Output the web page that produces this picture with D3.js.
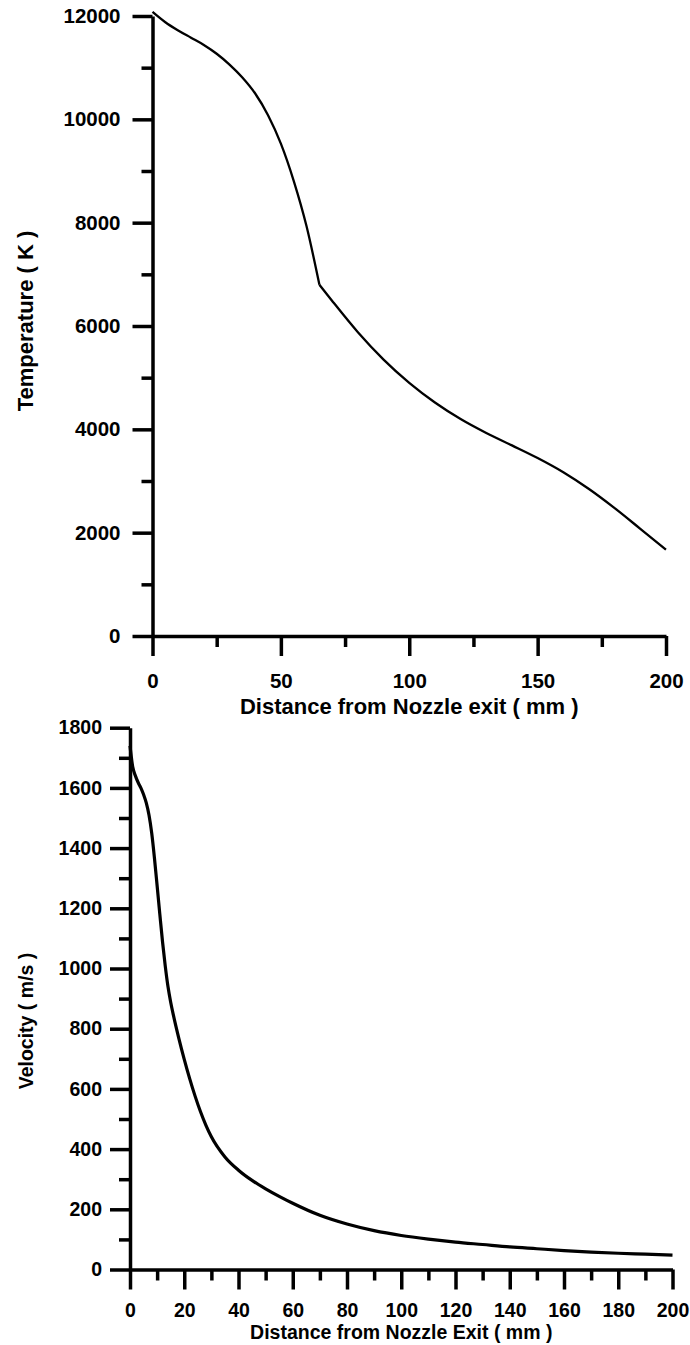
<!DOCTYPE html>
<html>
<head>
<meta charset="utf-8">
<script src="https://cdnjs.cloudflare.com/ajax/libs/d3/7.8.5/d3.min.js"></script>
<style>
body{margin:0;background:#fff}
svg{display:block}
text{font-family:"Liberation Sans",Arial,Helvetica,sans-serif;font-weight:bold;fill:#000}
</style>
</head>
<body>
<script>
// top plot: temperature along the jet axis
var tempDist = [0,5,10,15,20,25,30,35,40,45,50,55,60,65,70,80,90,100,110,120,130,140,150,160,170,180,190,200];
var tempVal  = [12080,11880,11720,11580,11440,11270,11060,10810,10500,10080,9530,8810,7930,6800,6485,5880,5350,4900,4520,4200,3930,3690,3445,3170,2845,2475,2075,1670];
var tempBreak = 65; // slope changes abruptly here
var tempXTicks = [0,50,100,150,200];
var tempXMinor = [25,75,125,175];
var tempYTicks = [0,2000,4000,6000,8000,10000,12000];
var tempYMinor = [1000,3000,5000,7000,9000,11000];

// bottom plot: velocity along the jet axis
var velDist = [0,1,2,3,4,5,6,7,8,9,10,11,12,13,14,15,16,18,20,22,24,26,28,30,35,40,45,50,55,60,70,80,90,100,110,120,130,140,150,160,170,180,190,200];
var velVal  = [1740,1670,1640,1618,1600,1578,1550,1510,1450,1368,1275,1180,1088,1008,940,888,845,768,698,634,576,524,479,441,374,330,296,268,243,220,180,151,129,113,101,91,83,75,69,63,58,54,51,48];
var velXTicks = [0,20,40,60,80,100,120,140,160,180,200];
var velXMinor = [10,30,50,70,90,110,130,150,170,190];
var velYTicks = [0,200,400,600,800,1000,1200,1400,1600,1800];
var velYMinor = [100,300,500,700,900,1100,1300,1500,1700];

var W = 690, H = 1345;
var svg = d3.select('body').append('svg')
  .attr('width', W)
  .attr('height', H);

function panel(p) {
  var x = d3.scaleLinear().domain([0,200]).range([p.left,p.right]);
  var y = d3.scaleLinear().domain([0,p.ymax]).range([p.bottom,p.top]);
  var g = svg.append('g');

  // minor ticks first, under the majors
  g.append('g')
    .attr('transform','translate(0,'+p.bottom+')')
    .call(d3.axisBottom(x).tickValues(p.xMinor).tickSize(11).tickFormat(''))
    .call(function(s){ s.select('.domain').remove(); });
  g.append('g')
    .attr('transform','translate('+p.left+',0)')
    .call(d3.axisLeft(y).tickValues(p.yMinor).tickSize(11).tickFormat(''))
    .call(function(s){ s.select('.domain').remove(); });

  g.append('g')
    .attr('transform','translate(0,'+p.bottom+')')
    .call(d3.axisBottom(x).tickValues(p.xTicks).tickSize(20).tickSizeOuter(0)
      .tickPadding(p.xPad).tickFormat(d3.format('d')));
  g.append('g')
    .attr('transform','translate('+p.left+',0)')
    .call(d3.axisLeft(y).tickValues(p.yTicks).tickSize(20).tickSizeOuter(0)
      .tickPadding(p.yPad).tickFormat(d3.format('d')));

  g.selectAll('.domain, .tick line')
    .attr('stroke','#000')
    .attr('stroke-width',3.5);
  g.selectAll('.tick text')
    .attr('fill','#000')
    .style('font-family','"Liberation Sans",Arial,sans-serif')
    .style('font-weight','bold')
    .style('font-size',p.tickFont+'px');

  // axis titles
  g.append('text')
    .attr('x',(p.left+p.right)/2)
    .attr('y',p.xTitleY)
    .attr('text-anchor','middle')
    .style('font-size',p.titleFont+'px')
    .text(p.xTitle);
  g.append('text')
    .attr('transform','translate('+p.yTitleX+','+p.yTitleY+') rotate(-90)')
    .attr('text-anchor','middle')
    .style('font-size',p.titleFont+'px')
    .text(p.yTitle);

  var line = d3.line()
    .x(function(d){ return x(d[0]); })
    .y(function(d){ return y(d[1]); })
    .curve(d3.curveMonotoneX);

  p.segments.forEach(function(seg){
    g.append('path')
      .datum(seg)
      .attr('d',line)
      .attr('fill','none')
      .attr('stroke','#000')
      .attr('stroke-width',p.lineW)
      .attr('stroke-linejoin','round');
  });
}

var tempPts = tempDist.map(function(d,i){ return [d,tempVal[i]]; });
var velPts = velDist.map(function(d,i){ return [d,velVal[i]]; });

panel({
  left:152.5, right:666, top:16, bottom:636, ymax:12000,
  xTicks:tempXTicks, xMinor:tempXMinor, yTicks:tempYTicks, yMinor:tempYMinor,
  xPad:17, yPad:12, tickFont:20.5, titleFont:22,
  xTitle:'Distance from Nozzle exit ( mm )', xTitleY:714,
  yTitle:'Temperature ( K )', yTitleX:33, yTitleY:321,
  lineW:2.3,
  segments:[
    tempPts.filter(function(d){ return d[0] <= tempBreak; }),
    tempPts.filter(function(d){ return d[0] >= tempBreak; })
  ]
});

panel({
  left:130, right:672.5, top:727.7, bottom:1269.5, ymax:1800,
  xTicks:velXTicks, xMinor:velXMinor, yTicks:velYTicks, yMinor:velYMinor,
  xPad:14, yPad:8, tickFont:19.5, titleFont:19.5,
  xTitle:'Distance from Nozzle Exit ( mm )', xTitleY:1339,
  yTitle:'Velocity ( m/s )', yTitleX:33, yTitleY:1021,
  lineW:3.2,
  segments:[velPts]
});
</script>
</body>
</html>
